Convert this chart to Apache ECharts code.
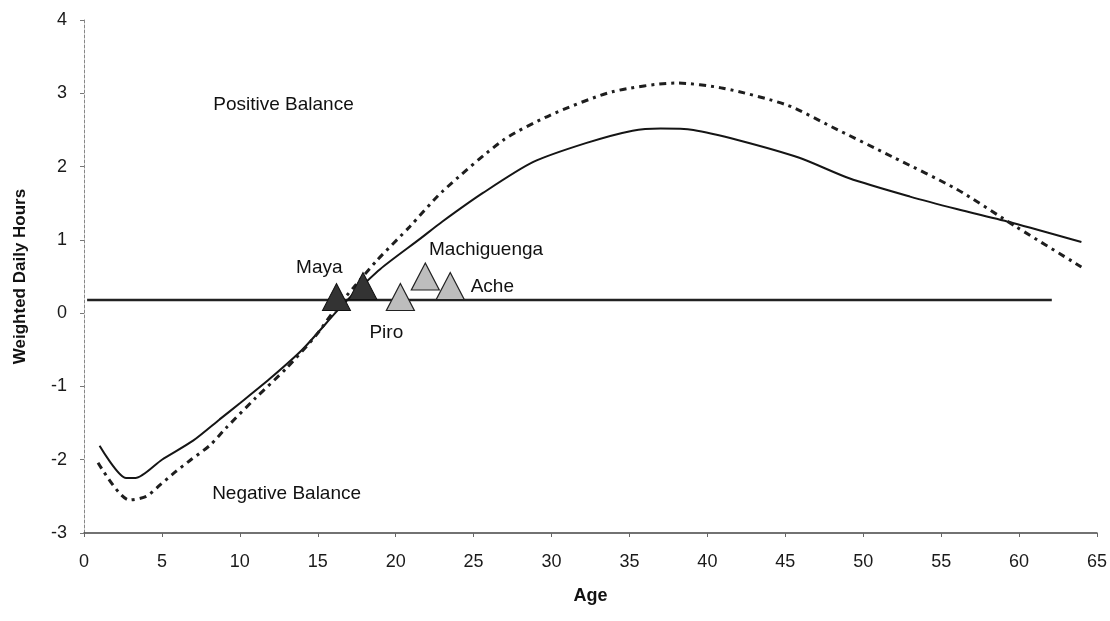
<!DOCTYPE html>
<html>
<head>
<meta charset="utf-8">
<script src="https://cdn.jsdelivr.net/npm/echarts@6/dist/echarts.min.js"></script>
<style>
  html, body { margin: 0; padding: 0; background: #fff; }
  #chart { width: 1110px; height: 621px; }
</style>
</head>
<body>
<div id="chart"></div>
<script>
// solid curve: [age, weighted daily hours]
const solidLine = [
  [1, -1.81], [2.7, -2.25], [3.3, -2.25], [5, -2.0], [7, -1.74], [8.7, -1.45],
  [10, -1.23], [11.9, -0.9], [14, -0.5], [16.2, 0.02], [17, 0.2], [19, 0.6],
  [21.6, 1.02], [23, 1.25], [25.6, 1.64], [28.8, 2.06], [32.2, 2.32], [35.2, 2.49],
  [37, 2.52], [39.1, 2.5], [42, 2.36], [45.9, 2.12], [49.1, 1.84], [53, 1.59],
  [56, 1.42], [59.6, 1.23], [64, 0.97]
];

// dotted curve
const dottedLine = [
  [0.9, -2.04], [2.9, -2.55], [4, -2.5], [4.9, -2.34], [5.9, -2.16], [6.8, -2.01],
  [8.1, -1.8], [9.1, -1.57], [11, -1.16], [13, -0.75], [14.9, -0.3], [16, 0.02],
  [17.3, 0.35], [18.8, 0.72], [20.9, 1.18], [23, 1.66], [26.9, 2.36],
  [29.9, 2.7], [33.9, 3.02], [38, 3.14], [41, 3.07], [45.1, 2.84], [48, 2.54],
  [51.9, 2.13], [56, 1.69], [59.8, 1.18], [64, 0.63]
];

// horizontal balance line
const balanceLine = [[0.2, 0.18], [62.1, 0.18]];

// triangles
const darkTriangles = [[16.2, 0.22], [17.9, 0.37]];
const lightTriangles = [[20.3, 0.22], [21.9, 0.5], [23.5, 0.37]];

// text notes [age, value, text]
const notes = [
  [15.1, 0.62, 'Maya'],
  [25.8, 0.86, 'Machiguenga'],
  [26.2, 0.36, 'Ache'],
  [19.4, -0.27, 'Piro'],
  [12.8, 2.84, 'Positive Balance'],
  [13.0, -2.47, 'Negative Balance']
];

const chart = echarts.init(document.getElementById('chart'));
const font = '"Liberation Sans", Arial, sans-serif';

chart.setOption({
  animation: false,
  backgroundColor: '#fff',
  textStyle: { fontFamily: font },
  grid: { left: 84, right: 13, top: 20, bottom: 88 },
  xAxis: {
    type: 'value',
    min: 0, max: 65, interval: 5,
    name: 'Age',
    nameLocation: 'middle',
    nameGap: 54,
    nameTextStyle: { fontSize: 18, fontWeight: 'bold', color: '#111', fontFamily: font },
    axisLine: { onZero: false, lineStyle: { color: '#444', width: 1.5 } },
    axisTick: { length: 4, lineStyle: { color: '#666' } },
    axisLabel: { fontSize: 18, color: '#1a1a1a', margin: 20, fontFamily: font },
    splitLine: { show: false }
  },
  yAxis: {
    type: 'value',
    min: -3, max: 4, interval: 1,
    name: 'Weighted Daily Hours',
    nameLocation: 'middle',
    nameGap: 55,
    nameTextStyle: { fontSize: 17, fontWeight: 'bold', color: '#111', fontFamily: font },
    axisLine: { show: true, onZero: false, lineStyle: { color: '#888', type: [3, 2], width: 1 } },
    axisTick: { show: true, length: 4, lineStyle: { color: '#777' } },
    axisLabel: { fontSize: 18, color: '#1a1a1a', margin: 17, fontFamily: font },
    splitLine: { show: false }
  },
  series: [
    {
      type: 'line',
      data: balanceLine,
      symbol: 'none',
      lineStyle: { color: '#222', width: 2.5 },
      z: 2
    },
    {
      type: 'line',
      data: solidLine,
      symbol: 'none',
      smooth: 0.25,
      lineStyle: { color: '#151515', width: 2 },
      z: 3
    },
    {
      type: 'line',
      data: dottedLine,
      symbol: 'none',
      smooth: 0.25,
      lineStyle: { color: '#1e1e1e', width: 3, type: [7, 5, 3, 5] },
      z: 3
    },
    {
      type: 'scatter',
      data: darkTriangles,
      symbol: 'triangle',
      symbolSize: [28, 27],
      itemStyle: { color: '#333', borderColor: '#111', borderWidth: 1, opacity: 1 },
      z: 5
    },
    {
      type: 'scatter',
      data: lightTriangles,
      symbol: 'triangle',
      symbolSize: [28, 27],
      itemStyle: { color: '#bdbdbd', borderColor: '#222', borderWidth: 1.2, opacity: 1 },
      z: 5
    },
    {
      type: 'scatter',
      data: notes.map(n => ({ value: [n[0], n[1]], name: n[2] })),
      symbolSize: 0,
      silent: true,
      itemStyle: { opacity: 1 },
      label: {
        show: true,
        position: 'inside',
        formatter: p => p.name,
        fontSize: 19,
        color: '#111',
        fontFamily: font
      },
      z: 6
    }
  ]
});
</script>
</body>
</html>
